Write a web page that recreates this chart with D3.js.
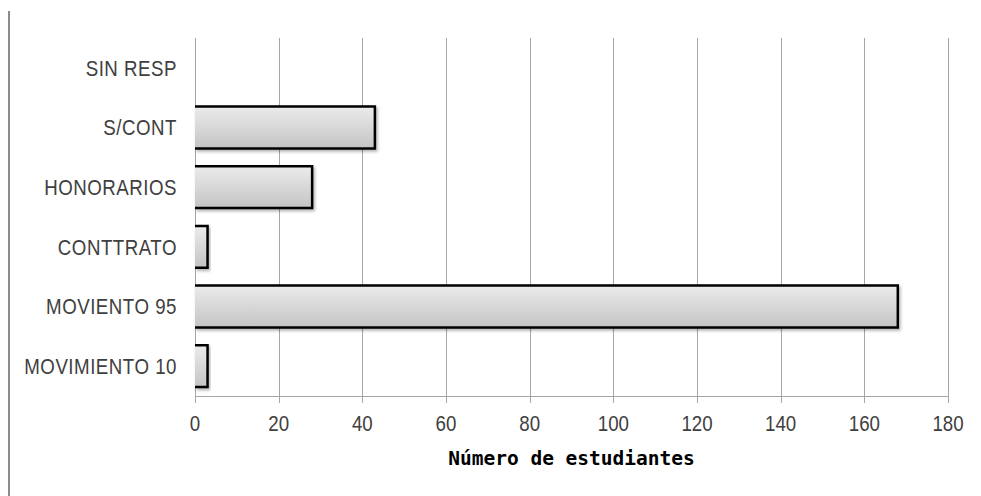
<!DOCTYPE html>
<html>
<head>
<meta charset="utf-8">
<script src="https://cdn.jsdelivr.net/npm/d3@7"></script>
<style>
  html, body { margin: 0; padding: 0; background: #fff; }
</style>
</head>
<body>
<div id="chart"></div>
<script>
// categories, top to bottom
const categories = ['SIN RESP', 'S/CONT', 'HONORARIOS', 'CONTTRATO', 'MOVIENTO 95', 'MOVIMIENTO 10'];
const values = [0, 43, 28, 3, 168, 3];
const xTicks = [0, 20, 40, 60, 80, 100, 120, 140, 160, 180];
const xTitle = 'Número de estudiantes';

const WIDTH = 981;
const HEIGHT = 496;
const margin = {top: 38, right: 33, bottom: 100, left: 195};
const LABEL_FONT = '"Liberation Sans", Arial, sans-serif';
const SQUEEZE = 0.85; // labels in the original are tall and narrow

const svg = d3.select('#chart').append('svg')
    .attr('width', WIDTH)
    .attr('height', HEIGHT);

const defs = svg.append('defs');
const grad = defs.append('linearGradient')
    .attr('id', 'barFill')
    .attr('x1', 0).attr('y1', 0)
    .attr('x2', 0).attr('y2', 1);
grad.append('stop').attr('offset', '0%').attr('stop-color', '#ebebeb');
grad.append('stop').attr('offset', '100%').attr('stop-color', '#c4c4c4');

const shadow = defs.append('filter')
    .attr('id', 'barShadow')
    .attr('x', '-10%').attr('y', '-20%')
    .attr('width', '130%').attr('height', '160%');
shadow.append('feDropShadow')
    .attr('dx', 1.5).attr('dy', 2)
    .attr('stdDeviation', 1.5)
    .attr('flood-color', '#000')
    .attr('flood-opacity', 0.3);

// thin frame line on the far left
svg.append('line')
    .attr('x1', 9).attr('x2', 9)
    .attr('y1', 11).attr('y2', HEIGHT)
    .attr('stroke', '#8c8c8c')
    .attr('stroke-width', 2);

const x = d3.scaleLinear()
    .domain([0, 180])
    .range([margin.left, WIDTH - margin.right]);

const y = d3.scaleBand()
    .domain(categories)
    .range([margin.top, HEIGHT - margin.bottom])
    .paddingInner(0.3)
    .paddingOuter(0.15);

const plotBottom = HEIGHT - margin.bottom;

// vertical gridlines (extend down as ticks)
svg.append('g')
    .selectAll('line')
    .data(xTicks)
    .join('line')
    .attr('x1', d => Math.round(x(d)) + 0.5)
    .attr('x2', d => Math.round(x(d)) + 0.5)
    .attr('y1', margin.top)
    .attr('y2', plotBottom + 7)
    .attr('stroke', '#a6a6a6')
    .attr('stroke-width', 1);

// bottom axis line
svg.append('line')
    .attr('x1', x(0)).attr('x2', x(180))
    .attr('y1', plotBottom + 0.5).attr('y2', plotBottom + 0.5)
    .attr('stroke', '#a6a6a6');

// tick labels
svg.append('g')
    .selectAll('text')
    .data(xTicks)
    .join('text')
    .attr('transform', d => `translate(${x(d)},${plotBottom + 35}) scale(${SQUEEZE},1)`)
    .attr('text-anchor', 'middle')
    .style('font-family', LABEL_FONT)
    .style('font-size', '22px')
    .attr('fill', '#404040')
    .text(d => d);

// bars: fill first, then outline on top/right/bottom only
const barData = categories.map((c, i) => ({cat: c, val: values[i]})).filter(d => d.val > 0);
const bars = svg.append('g')
    .selectAll('g')
    .data(barData)
    .join('g')
    .attr('filter', 'url(#barShadow)');

bars.append('rect')
    .attr('x', x(0))
    .attr('y', d => y(d.cat))
    .attr('width', d => x(d.val) - x(0))
    .attr('height', y.bandwidth())
    .attr('fill', 'url(#barFill)');

bars.append('path')
    .attr('d', d => {
        const x0 = x(0), x1 = x(d.val), y0 = y(d.cat), y1 = y0 + y.bandwidth();
        return `M${x0},${y0}H${x1}V${y1}H${x0}`;
    })
    .attr('fill', 'none')
    .attr('stroke', '#000')
    .attr('stroke-width', 2.5);

// category labels
svg.append('g')
    .selectAll('text')
    .data(categories)
    .join('text')
    .attr('transform', d => `translate(${margin.left - 18},${y(d) + y.bandwidth() / 2}) scale(${SQUEEZE},1)`)
    .attr('dy', '0.36em')
    .attr('text-anchor', 'end')
    .style('font-family', LABEL_FONT)
    .style('font-size', '22px')
    .style('letter-spacing', '0.6px')
    .attr('fill', '#404040')
    .text(d => d);

// axis title
svg.append('text')
    .attr('x', (x(0) + x(180)) / 2)
    .attr('y', plotBottom + 69)
    .attr('text-anchor', 'middle')
    .style('font-family', '"DejaVu Sans Mono", monospace')
    .style('font-weight', 'bold')
    .style('font-size', '19.5px')
    .attr('fill', '#000')
    .text(xTitle);
</script>
</body>
</html>
